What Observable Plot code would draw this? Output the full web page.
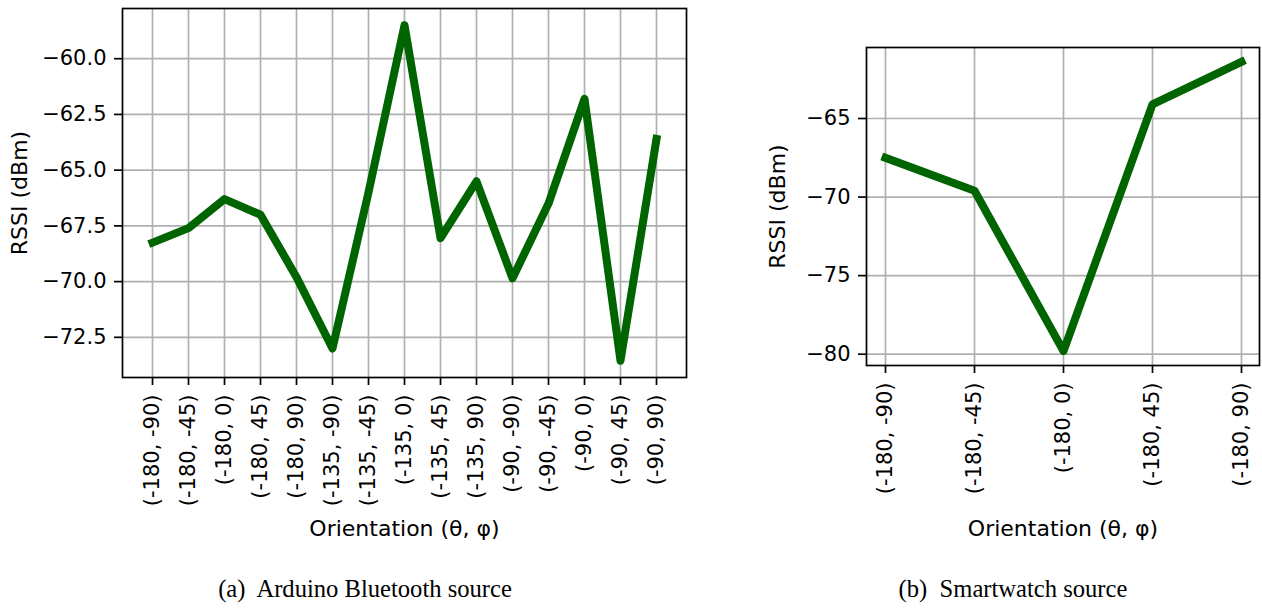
<!DOCTYPE html>
<html><head><meta charset="utf-8">
<script src="https://cdn.jsdelivr.net/npm/d3@7"></script>
<script src="https://cdn.jsdelivr.net/npm/@observablehq/plot@0.6"></script>
<style>
body{margin:0;background:#fff;width:1262px;height:612px;position:relative;overflow:hidden}
.panel{position:absolute;top:0}
.cap{position:absolute;top:577px;font-family:"Liberation Serif",serif;font-size:24.6px;line-height:24px;white-space:nowrap;transform:translateX(-50%);color:#000}
</style></head><body>
<div id="a" class="panel" style="left:0"></div>
<div id="b" class="panel" style="left:740px"></div>
<div class="cap" style="left:365px">(a)&nbsp; Arduino Bluetooth source</div>
<div class="cap" style="left:1013px">(b)&nbsp; Smartwatch source</div>
<script>
const orientA = ["(-180, -90)", "(-180, -45)", "(-180, 0)", "(-180, 45)", "(-180, 90)",
                 "(-135, -90)", "(-135, -45)", "(-135, 0)", "(-135, 45)", "(-135, 90)",
                 "(-90, -90)", "(-90, -45)", "(-90, 0)", "(-90, 45)", "(-90, 90)"];
const rssiA = [-68.25, -67.6, -66.3, -67.0, -69.8, -73.0, -66.0, -58.5, -68.05, -65.5, -69.85, -66.5, -61.8, -73.55, -63.6];
const ticksA = [-72.5, -70, -67.5, -65, -62.5, -60];

const orientB = ["(-180, -90)", "(-180, -45)", "(-180, 0)", "(-180, 45)", "(-180, 90)"];
const rssiB = [-67.5, -69.6, -79.8, -64.1, -61.4];
const ticksB = [-80, -75, -70, -65];

const xLabel = "Orientation (θ, φ)";
const yLabel = "RSSI (dBm)";

function pad(vals){const [lo,hi]=d3.extent(vals);const m=(hi-lo)*0.05;return [lo-m,hi+m];}

function panel({cats, vals, ticks, fmt, width, height, ml, mr, mt, mb, xOff, yOff}) {
  const data = cats.map((c,i)=>({c, v: vals[i]}));
  const inner = width-ml-mr;
  const inset = inner*0.05/1.1;
  return Plot.plot({
    width, height, marginLeft: ml, marginRight: mr, marginTop: mt, marginBottom: mb,
    style: {fontFamily:"'DejaVu Sans'", fontSize:"21px", background:"white", color:"black", overflow:"visible"},
    x: {type:"point", domain: cats, padding:0, inset},
    y: {domain: pad(vals)},
    marks: [
      Plot.gridX({stroke:"#b0b0b0", strokeOpacity:1, strokeWidth:1.7}),
      Plot.gridY(ticks, {stroke:"#b0b0b0", strokeOpacity:1, strokeWidth:1.7}),
      Plot.line(data, {x:"c", y:"v", stroke:"#006400", strokeWidth:8, strokeLinecap:"square", strokeLinejoin:"round"}),
      Plot.frame({stroke:"black", strokeWidth:1.7}),
      Plot.axisX({tickRotate:-90, tickSize:8, tickPadding:9, strokeWidth:1.7, fontSize:21, label:null}),
      Plot.axisY(ticks, {tickSize:8, tickPadding:8, strokeWidth:1.7, fontSize:21, tickFormat:fmt, label:null}),
      Plot.text([xLabel], {frameAnchor:"bottom", dy:xOff, lineAnchor:"bottom", textAnchor:"middle", fontSize:22, fill:"black"}),
      Plot.text([yLabel], {frameAnchor:"left", dx:-yOff, rotate:-90, lineAnchor:"top", textAnchor:"middle", fontSize:22, fill:"black"})
    ]
  });
}

document.getElementById("a").append(panel({cats:orientA, vals:rssiA, ticks:ticksA, fmt:d3.format(".1f"),
  width:700, height:560, ml:122, mr:14, mt:8, mb:183, xOff:158, yOff:111}));
document.getElementById("b").append(panel({cats:orientB, vals:rssiB, ticks:ticksB, fmt:d3.format("d"),
  width:522, height:560, ml:126, mr:3, mt:47, mb:195, xOff:170, yOff:97}));
</script>
</body></html>
